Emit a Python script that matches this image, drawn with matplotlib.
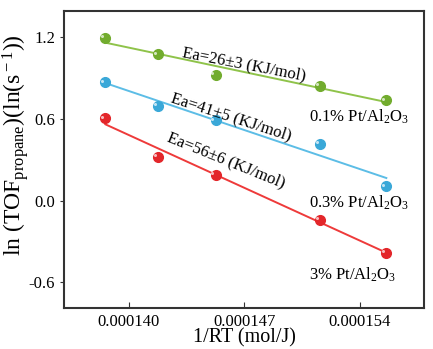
import matplotlib.pyplot as plt
import numpy as np

plt.rcParams['font.family'] = ['Liberation Serif', 'DejaVu Serif']
plt.rcParams['mathtext.fontset'] = 'custom'
plt.rcParams['mathtext.rm'] = 'Liberation Serif'
plt.rcParams['mathtext.it'] = 'Liberation Serif:italic'

# data
inv_rt = [0.0001386, 0.0001418, 0.0001453, 0.0001516, 0.0001556]
ln_tof_01 = [1.197, 1.075, 0.925, 0.842, 0.737]
ln_tof_03 = [0.870, 0.696, 0.590, 0.419, 0.103]
ln_tof_3 = [0.605, 0.321, 0.189, -0.144, -0.386]

series = [
    (ln_tof_01, '#72ac2e', '#8fc34a', '0.1% Pt/Al$_2$O$_3$'),
    (ln_tof_03, '#3aa8d8', '#5cbde6', '0.3% Pt/Al$_2$O$_3$'),
    (ln_tof_3, '#e3262a', '#ee3a3a', '3% Pt/Al$_2$O$_3$'),
]
ea_text = ['Ea=26\u00b13 (KJ/mol)', 'Ea=41\u00b15 (KJ/mol)', 'Ea=56\u00b16 (KJ/mol)']
ea_pos = [(0.0001470, 1.003, -11), (0.0001462, 0.615, -18), (0.0001459, 0.295, -22)]
name_pos = [(0.0001509, 0.617), (0.0001509, -0.015), (0.0001509, -0.545)]

fig = plt.figure(figsize=(4.33, 3.49), dpi=100)
ax = fig.add_axes([0.148, 0.1175, 0.832, 0.851])

x = np.array(inv_rt)
for (y, col, lcol, name), txt, (tx, ty, rot), (nx, ny) in zip(series, ea_text, ea_pos, name_pos):
    k, b = np.polyfit(x, y, 1)
    ax.plot(x[[0, -1]], k * x[[0, -1]] + b, color=lcol, lw=1.4, zorder=2)
    ax.plot(x, y, 'o', color=col, ms=7, zorder=3)
    ax.plot(x - 2.2e-7, np.array(y) + 0.012, 'o', color='white', ms=2.2, alpha=0.7, mec='none', zorder=4)
    ax.text(tx, ty, txt, rotation=rot, ha='center', va='center', fontsize=12, rotation_mode='anchor')
    ax.text(nx, ny, name, ha='left', va='center', fontsize=12)

ax.set_xlim(0.0001361, 0.0001579)
ax.set_ylim(-0.79, 1.393)
ax.set_xticks([0.000140, 0.000147, 0.000154])
ax.set_xticklabels(['0.000140', '0.000147', '0.000154'])
ax.set_yticks([-0.6, 0.0, 0.6, 1.2])
ax.set_yticklabels(['-0.6', '0.0', '0.6', '1.2'])
ax.tick_params(axis='x', direction='in', labelsize=12, length=4, pad=4, color='#333333')
ax.tick_params(axis='y', direction='out', labelsize=12, length=3, color='#333333')
for s in ax.spines.values():
    s.set_linewidth(1.5)
    s.set_color('#333333')

ax.set_xlabel('1/RT (mol/J)', fontsize=14.5)
ax.xaxis.set_label_coords(0.5, -0.068)
ax.set_ylabel('ln (TOF$_{\\rm propane}$)(ln(s$^{\\rm -1}$))', fontsize=17)
ax.yaxis.set_label_coords(-0.092, 0.55)

fig.savefig('out.png', dpi=100)
